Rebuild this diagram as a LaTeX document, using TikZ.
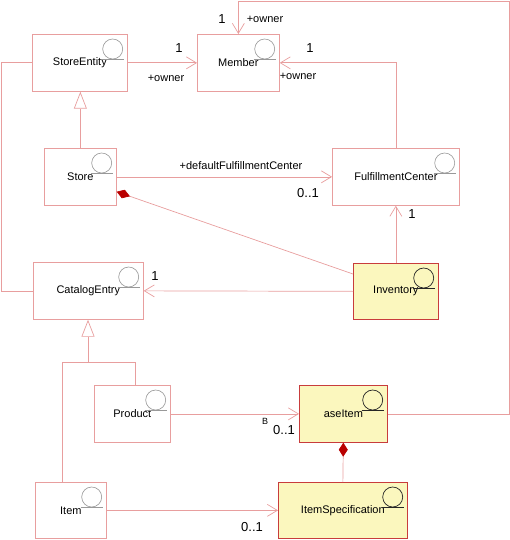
\documentclass[tikz,border=0pt]{standalone}
\usepackage{fontspec}
\setmainfont{Liberation Sans}
\usetikzlibrary{arrows.meta}
\definecolor{linec}{RGB}{232,158,158}
\definecolor{yfill}{RGB}{251,247,190}
\definecolor{ybord}{RGB}{200,60,60}
\definecolor{diamc}{RGB}{185,0,0}
\begin{document}
\begin{tikzpicture}[x=1pt,y=-1pt,
  cls/.style={draw=linec, line width=0.7pt, fill=white, anchor=north west, minimum height=57pt, inner sep=0pt, font=\fontsize{11}{13}\selectfont},
  ycls/.style={cls, draw=ybord, fill=yfill},
  conn/.style={draw=linec, line width=0.7pt},
  assoc/.style={conn, -{Straight Barb[length=10pt,width=12pt]}},
  gen/.style={conn, -{Triangle[open,length=17pt,width=13pt,fill=white]}},
  comp/.style={conn, {Diamond[length=14pt,width=9pt,fill=diamc,color=diamc]}-},
  mult/.style={font=\fontsize{13}{15}\selectfont, inner sep=0pt},
  role/.style={font=\fontsize{11}{13}\selectfont, inner sep=0pt},
  icon/.style={draw=gray!80, line width=0.6pt},
  yicon/.style={draw=black!85, line width=0.7pt}]
\useasboundingbox (0,0) rectangle (510,540);
\coordinate (jl) at (62,362);
\coordinate (jr) at (135,362);
\coordinate (jm) at (88,362);
% boxes
\node[cls, minimum width=95pt] (se) at (32,34) {StoreEntity};
\node[cls, minimum width=82pt] (mem) at (197,34) {Member};
\node[cls, minimum width=72pt] (store) at (44,148) {Store};
\node[cls, minimum width=127pt] (fc) at (332,148) {FulfillmentCenter};
\node[cls, minimum width=110pt] (ce) at (33,262) {CatalogEntry};
\node[ycls, minimum width=85pt, minimum height=56pt] (inv) at (353,263) {Inventory};
\node[cls, minimum width=76pt] (prod) at (94,385) {Product};
\node[ycls, minimum width=88pt] (ase) at (299,385) {aseItem};
\node[cls, minimum width=71pt, minimum height=56pt] (item) at (35,482) {Item};
\node[ycls, minimum width=129pt, minimum height=56pt] (spec) at (278,482) {ItemSpecification};
% icons
\foreach \n/\st in {se/icon,mem/icon,store/icon,fc/icon,ce/icon,prod/icon,item/icon,inv/yicon,ase/yicon,spec/yicon}{
  \draw[\st] ([shift={(-15,15)}]\n.north east) circle (10pt);
  \draw[\st] ([shift={(-26,25.5)}]\n.north east) -- ++(22,0);
}
% connectors
\draw[assoc] (se.east) -- (mem.west);
\draw[assoc] (ase.east) -- ++(122,0) |- (mem.north |- 0,1) -- (mem.north);
\draw[assoc] (fc.north) |- (mem.east);
\draw[gen] (store.north) -- (store.north |- se.south);
\draw[assoc] (store.east) -- (fc.west);
\draw[comp] ([yshift=14pt]store.south east) -- ([yshift=-11pt]inv.north west);
\draw[assoc] (inv.north) -- (inv.north |- fc.south);
\draw[assoc] (inv.west) -- (ce.east);
\draw[conn] (se.west) -- ++(-31,0) |- (ce.west);
\draw[conn] (item.north -| jl) -- (jl) -- (jr) -- (prod.north -| jr);
\draw[gen] (jm) -- (ce.south -| jm);
\draw[assoc] (prod.east) -- (ase.west);
\draw[comp] (ase.south) -- (spec.north);
\draw[assoc] (item.east) -- (spec.west);
% labels
\node[mult] (l1) at (179,48) {1};
\node[role] (l2) at (166,78) {+owner};
\node[mult] (l3) at (222,19) {1};
\node[role] (l4) at (265,19) {+owner};
\node[mult] (l5) at (310,48) {1};
\node[role] (l6) at (298,76) {+owner};
\node[role] (l7) at (241,166) {+defaultFulfillmentCenter};
\node[mult] (l8) at (308,193) {0..1};
\node[mult] (l9) at (412,214) {1};
\node[mult] (l10) at (155,276) {1};
\node[role, font=\fontsize{9}{11}\selectfont] (l11) at (265,421) {B};
\node[mult] (l12) at (284,430) {0..1};
\node[mult] (l13) at (252,527) {0..1};
\end{tikzpicture}
\end{document}
